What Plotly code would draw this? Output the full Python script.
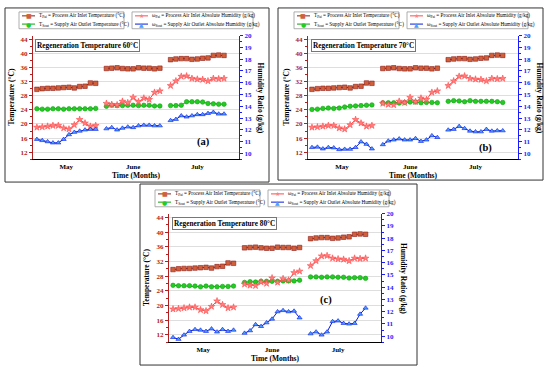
import plotly.graph_objects as go

W, H = 550, 369

# ---------------- data ----------------
months = ["May", "June", "July"]
may_x = list(range(1, 13))
jun_x = list(range(14, 25))
jul_x = list(range(26, 37))
month_tick_pos = [6.5, 19, 31]

# Process air inlet temperature (°C) – same in all panels
t_pai_may = [29.8, 30.0, 30.1, 30.1, 30.2, 30.3, 30.4, 30.2, 30.6, 30.7, 31.6, 31.5]
t_pai_jun = [35.7, 35.8, 35.9, 35.7, 35.6, 35.6, 35.9, 35.8, 35.8, 35.6, 35.8]
t_pai_jul = [38.2, 38.4, 38.5, 38.5, 38.3, 38.4, 38.6, 38.7, 39.4, 39.5, 39.4]

# Process air inlet absolute humidity (g/kg) – same in all panels
w_pai_may = [12.21, 12.24, 12.30, 12.36, 12.36, 12.15, 12.06, 12.42, 12.87, 12.57, 12.30, 12.36]
w_pai_jun = [14.24, 14.15, 14.12, 14.42, 14.30, 14.75, 14.39, 14.69, 14.57, 15.18, 15.30]
w_pai_jul = [15.75, 16.15, 16.54, 16.57, 16.36, 16.30, 16.27, 16.15, 16.36, 16.33, 16.36]

# Supply air outlet temperature (°C)
t_sout_60_may = [24.3, 24.2, 24.2, 24.3, 24.3, 24.2, 24.3, 24.3, 24.3, 24.3, 24.3, 24.4]
t_sout_60_jun = [25.0, 25.3, 25.2, 25.2, 25.3, 25.3, 25.2, 25.3, 25.3, 25.1, 25.1]
t_sout_60_jul = [25.2, 25.2, 25.3, 26.3, 26.3, 26.3, 26.2, 25.8, 25.7, 25.6, 25.6]

t_sout_70_may = [24.1, 24.2, 24.4, 24.5, 24.4, 24.5, 24.8, 25.0, 25.1, 25.2, 25.3, 25.4]
t_sout_70_jun = [26.0, 26.0, 26.0, 25.9, 26.1, 26.2, 26.2, 26.0, 26.1, 26.1, 26.0]
t_sout_70_jul = [26.4, 26.6, 26.5, 26.3, 26.6, 26.4, 26.4, 26.4, 26.4, 26.3, 26.1]

t_sout_80_may = [25.5, 25.4, 25.4, 25.4, 25.3, 25.1, 25.3, 25.1, 25.1, 25.2, 25.2, 25.3]
t_sout_80_jun = [26.3, 26.5, 26.4, 26.6, 26.6, 26.6, 26.6, 26.7, 26.7, 26.7, 26.9]
t_sout_80_jul = [27.8, 27.8, 27.7, 27.8, 27.8, 27.7, 27.7, 27.5, 27.6, 27.6, 27.4]

# Supply air outlet absolute humidity (g/kg)
w_sout_60_may = [11.2, 11.1, 11.0, 10.9, 10.9, 11.2, 11.6, 11.8, 11.9, 12.0, 12.05, 12.05]
w_sout_60_jun = [12.1, 12.2, 12.0, 12.15, 12.25, 12.2, 12.35, 12.4, 12.4, 12.35, 12.35]
w_sout_60_jul = [12.8, 12.9, 13.2, 13.1, 13.2, 13.3, 13.3, 13.4, 13.5, 13.35, 13.35]

w_sout_70_may = [10.51, 10.54, 10.39, 10.51, 10.48, 10.33, 10.36, 10.36, 10.51, 10.99, 10.78, 10.39]
w_sout_70_jun = [10.75, 11.06, 11.15, 11.24, 11.15, 11.15, 11.27, 11.03, 11.15, 11.51, 11.36]
w_sout_70_jul = [11.99, 12.05, 12.30, 12.12, 11.90, 11.84, 11.84, 12.05, 11.90, 11.93, 11.93]

w_sout_80_may = [9.9, 9.75, 10.1, 10.4, 10.55, 10.5, 10.4, 10.6, 10.35, 10.55, 10.4, 10.5]
w_sout_80_jun = [10.25, 10.45, 10.95, 10.8, 11.1, 11.4, 12.0, 12.1, 12.0, 12.05, 11.5]
w_sout_80_jul = [10.2, 10.35, 10.1, 10.35, 11.2, 11.25, 11.05, 11.0, 11.05, 11.8, 12.3]

titles = ["Regeneration Temperature 60°C", "Regeneration Temperature 70°C",
          "Regeneration Temperature 80°C"]
labels = ["(a)", "(b)", "(c)"]

t_sout = [(t_sout_60_may, t_sout_60_jun, t_sout_60_jul),
          (t_sout_70_may, t_sout_70_jun, t_sout_70_jul),
          (t_sout_80_may, t_sout_80_jun, t_sout_80_jul)]
w_sout = [(w_sout_60_may, w_sout_60_jun, w_sout_60_jul),
          (w_sout_70_may, w_sout_70_jun, w_sout_70_jul),
          (w_sout_80_may, w_sout_80_jun, w_sout_80_jul)]

# ---------------- layout geometry (px) ----------------
panels = [
    dict(plot=(33, 32, 239, 157), box=(5, 4, 269, 180), lab=(0.83, 0.14)),
    dict(plot=(308, 32, 518, 157), box=(278, 4, 543, 178), lab=(0.845, 0.09)),
    dict(plot=(169, 212, 381, 342), box=(140, 182, 417, 365), lab=(0.74, 0.33)),
]

FONT = "Liberation Serif"
RED_AX = "#b02020"
BLUE_AX = "#1a1aff"

C_TPAI_LINE, C_TPAI_FILL = "#8b1a1a", "#d0603a"
C_TSO_LINE, C_TSO_FILL = "#10a010", "#22cc22"
C_WPAI_LINE, C_WPAI_FILL = "#ff4a4a", "#ff8080"
C_WSO_LINE, C_WSO_FILL = "#0a1ae0", "#4aa0ff"


def px(x):
    return x / W


def py(y):
    return 1 - y / H


def join(a, b, c):
    return list(a) + [None] + list(b) + [None] + list(c)


X_ALL = join(may_x, jun_x, jul_x)

fig = go.Figure()
shapes, annotations = [], []
layout = {}

for i, p in enumerate(panels):
    n = i + 1
    xa = "x" if n == 1 else f"x{n}"
    yl = "y" if n == 1 else f"y{2 * n - 1}"
    yr = f"y{2 * n}"
    xkey = "xaxis" if n == 1 else f"xaxis{n}"
    ylkey = "yaxis" if n == 1 else f"yaxis{2 * n - 1}"
    yrkey = f"yaxis{2 * n}"
    L, T, R, B = p["plot"]

    series = [
        (join(t_pai_may, t_pai_jun, t_pai_jul), yl, C_TPAI_LINE, C_TPAI_FILL, "square", 4.5),
        (join(*t_sout[i]), yl, C_TSO_LINE, C_TSO_FILL, "circle", 4.5),
        (join(w_pai_may, w_pai_jun, w_pai_jul), yr, C_WPAI_LINE, C_WPAI_FILL, "star", 5),
        (join(*w_sout[i]), yr, C_WSO_LINE, C_WSO_FILL, "triangle-up", 4.5),
    ]
    for yv, ya, lc, fc, sym, ms in series:
        fig.add_trace(go.Scatter(
            x=X_ALL, y=yv, xaxis=xa, yaxis=ya, mode="lines+markers",
            connectgaps=False, showlegend=False,
            line=dict(color=lc, width=1),
            marker=dict(symbol=sym, size=ms, color=fc, line=dict(color=lc, width=0.6)),
        ))

    layout[xkey] = dict(
        domain=[px(L), px(R)], anchor=yl, range=[0.27, 38.8],
        tickvals=month_tick_pos, ticktext=months, ticks="",
        showline=True, linecolor="black", linewidth=1, showgrid=False, zeroline=False,
        tickfont=dict(family=FONT, size=7, color="black", weight="bold"),
    )
    layout[ylkey] = dict(
        domain=[py(B), py(T)], anchor=xa, range=[10, 45],
        tick0=0, dtick=4, ticks="outside", ticklen=3, tickcolor=RED_AX,
        minor=dict(dtick=2, ticks="outside", ticklen=2, tickcolor=RED_AX, showgrid=False),
        showline=True, linecolor=RED_AX, linewidth=1,
        showgrid=True, gridcolor="#dedede", gridwidth=1, zeroline=False,
        tickfont=dict(family=FONT, size=7, color=RED_AX, weight="bold"),
    )
    layout[yrkey] = dict(
        overlaying=yl, side="right", anchor=xa, range=[9.5, 20],
        tick0=0, dtick=1, ticks="outside", ticklen=3, tickcolor=BLUE_AX,
        minor=dict(dtick=0.5, ticks="outside", ticklen=2, tickcolor=BLUE_AX, showgrid=False),
        showline=True, linecolor=BLUE_AX, linewidth=1,
        showgrid=False, zeroline=False,
        tickfont=dict(family=FONT, size=7, color=BLUE_AX, weight="bold"),
    )

    # outer frame
    bx0, by0, bx1, by1 = p["box"]
    shapes.append(dict(type="rect", xref="paper", yref="paper",
                       x0=px(bx0), x1=px(bx1), y0=py(by1), y1=py(by0),
                       line=dict(color="#333333", width=1)))

    # title box inside plot
    annotations.append(dict(
        xref=f"{xa} domain", yref=f"{yl} domain", x=0.012, y=0.975,
        xanchor="left", yanchor="top", showarrow=False,
        text=titles[i], font=dict(family=FONT, size=7.3, color="black", weight="bold"),
        bgcolor="white", bordercolor="#777777", borderwidth=1, borderpad=1,
    ))
    # panel label
    lx, ly = p["lab"]
    annotations.append(dict(
        xref=f"{xa} domain", yref=f"{yl} domain", x=lx, y=ly,
        xanchor="center", yanchor="middle", showarrow=False,
        text=labels[i], font=dict(family=FONT, size=10.5, color="black", weight="bold"),
    ))
    # axis titles
    annotations.append(dict(
        xref="paper", yref="paper", x=px(L - 22), y=py((T + B) / 2),
        xanchor="center", yanchor="middle", textangle=-90, showarrow=False,
        text="Temperature (°C)", font=dict(family=FONT, size=7.5, color="black", weight="bold"),
    ))
    annotations.append(dict(
        xref="paper", yref="paper", x=px(R + 22), y=py((T + B) / 2),
        xanchor="center", yanchor="middle", textangle=90, showarrow=False,
        text="Humidity Ratio (g/kg)", font=dict(family=FONT, size=7.5, color="black", weight="bold"),
    ))
    annotations.append(dict(
        xref="paper", yref="paper", x=px((L + R) / 2), y=py(B + 16),
        xanchor="center", yanchor="middle", showarrow=False,
        text="Time (Months)", font=dict(family=FONT, size=7.5, color="black", weight="bold"),
    ))

    # manual legends (two boxes)
    leg_boxes = [
        (L - 14, L + 91, [
            ("T<sub>Pai</sub> = Process Air Inlet Temperature (°C)", C_TPAI_LINE, C_TPAI_FILL, "■"),
            ("T<sub>Sout</sub> = Supply Air Outlet Temperature (°C)", C_TSO_LINE, C_TSO_FILL, "●"),
        ]),
        (L + 99, L + 220, [
            ("ω<sub>Pai</sub> = Process Air Inlet Absolute Humidity (g/kg)", C_WPAI_LINE, C_WPAI_FILL, "★"),
            ("ω<sub>Sout</sub> = Supply Air Outlet Absolute Humidity (g/kg)", C_WSO_LINE, C_WSO_FILL, "▲"),
        ]),
    ]
    for lx0, lx1, items in leg_boxes:
        shapes.append(dict(type="rect", xref="paper", yref="paper",
                           x0=px(lx0), x1=px(lx1), y0=py(T - 7), y1=py(T - 24),
                           line=dict(color="#999999", width=0.8), fillcolor="white"))
        for k, (txt, lc, fc, glyph) in enumerate(items):
            yy = T - 20 + k * 8.3
            shapes.append(dict(type="line", xref="paper", yref="paper",
                               x0=px(lx0 + 3), x1=px(lx0 + 16), y0=py(yy), y1=py(yy),
                               line=dict(color=lc, width=1)))
            annotations.append(dict(
                xref="paper", yref="paper", x=px(lx0 + 9.5), y=py(yy),
                xanchor="center", yanchor="middle", showarrow=False,
                text=glyph, font=dict(family="DejaVu Sans", size=6, color=fc),
            ))
            annotations.append(dict(
                xref="paper", yref="paper", x=px(lx0 + 18), y=py(yy),
                xanchor="left", yanchor="middle", showarrow=False,
                text=txt, font=dict(family=FONT, size=5.2, color="black"),
            ))

fig.update_layout(
    width=W, height=H, margin=dict(l=0, r=0, t=0, b=0),
    paper_bgcolor="white", plot_bgcolor="white",
    shapes=shapes, annotations=annotations, showlegend=False,
    font=dict(family=FONT),
    **layout,
)

fig.write_html("out.html", config={"displayModeBar": False},
               post_script="document.body.style.margin='0px';")
